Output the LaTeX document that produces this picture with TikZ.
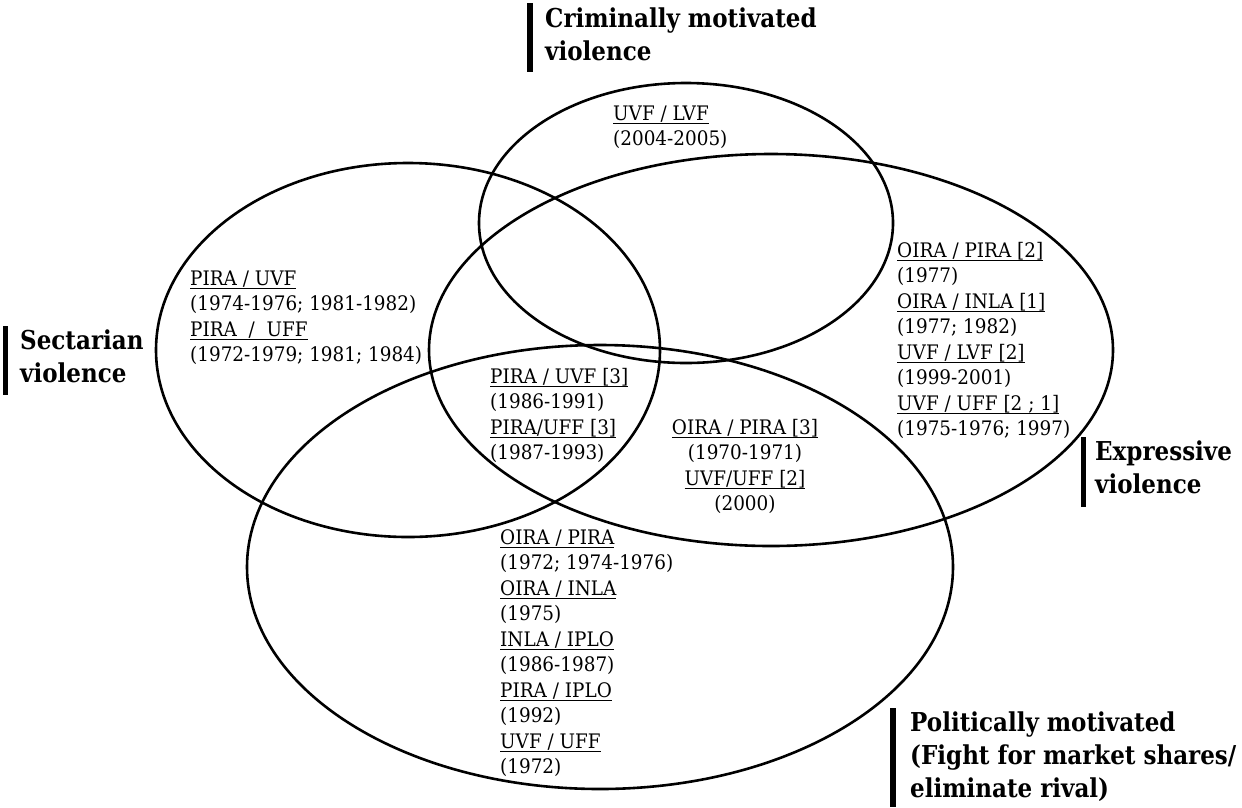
\documentclass[tikz,border=0pt]{standalone}
\usepackage{fontspec}
\setmainfont{DejaVu Serif}
\newfontfamily\pairfont{DejaVu Serif}[FakeStretch=0.92]
\newfontfamily\kindfont{DejaVu Serif}[FakeStretch=0.885]

% underlined pair of groups
\newcommand{\dyad}[1]{\setbox0=\hbox{#1}\leavevmode\rlap{\rule[-3.7pt]{\wd0}{1.2pt}}\box0}

\tikzset{
  set/.style={line width=2.6pt},
  bar/.style={line width=5.5pt},
  pairs/.style={font=\pairfont\fontsize{20}{25.5}\selectfont, align=left, anchor=base west, inner sep=0pt},
  kind/.style={font=\kindfont\bfseries\fontsize{26}{33}\selectfont, align=left, anchor=base west, inner sep=0pt}
}

\begin{document}
\begin{tikzpicture}[x=1pt, y=-1pt]
\useasboundingbox (0,0) rectangle (1242,807);

% the four sets
\draw[set] (686,223) ellipse [x radius=207, y radius=140];
\draw[set] (408,350) ellipse [x radius=252, y radius=187];
\draw[set] (771,350) ellipse [x radius=342, y radius=196];
\draw[set] (600,567) ellipse [x radius=353, y radius=222];

% kinds of violence (placed at the baseline of the last line)
\node[kind] (crime) at (545,60) {Criminally motivated\\violence};
\node[kind] (sect) at (20,382) {Sectarian\\violence};
\node[kind] (expr) at (1095,493) {Expressive\\violence};
\node[kind] (polit) at (910,797) {Politically motivated\\(Fight for market shares/\\eliminate rival)};
\draw[bar] (530,3) -- (530,72);
\draw[bar] (5.5,326) -- (5.5,395);
\draw[bar] (1083.5,437) -- (1083.5,507);
\draw[bar] (893,708) -- (893,807);

% feuds
\node[pairs] (crimepairs) at (613,145.5) {\dyad{UVF / LVF}\\(2004-2005)};
\node[pairs] (sectpairs) at (190,361.5) {\dyad{PIRA / UVF}\\(1974-1976; 1981-1982)\\\dyad{PIRA \ / \ UFF}\\(1972-1979; 1981; 1984)};
\node[pairs] (sectexpr) at (490,459.5) {\dyad{PIRA / UVF [3]}\\(1986-1991)\\\dyad{PIRA/UFF [3]}\\(1987-1993)};
\node[pairs, align=center, anchor=base] (exprpolit) at (745,510.5) {\dyad{OIRA / PIRA [3]}\\(1970-1971)\\\dyad{UVF/UFF [2]}\\(2000)};
\node[pairs] (exprpairs) at (897,435.5) {\dyad{OIRA / PIRA [2]}\\(1977)\\\dyad{OIRA / INLA [1]}\\(1977; 1982)\\\dyad{UVF / LVF [2]}\\(1999-2001)\\\dyad{UVF / UFF [2 ; 1]}\\(1975-1976; 1997)};
\node[pairs] (politpairs) at (500,773.5) {\dyad{OIRA / PIRA}\\(1972; 1974-1976)\\\dyad{OIRA / INLA}\\(1975)\\\dyad{INLA / IPLO}\\(1986-1987)\\\dyad{PIRA / IPLO}\\(1992)\\\dyad{UVF / UFF}\\(1972)};
\end{tikzpicture}
\end{document}
